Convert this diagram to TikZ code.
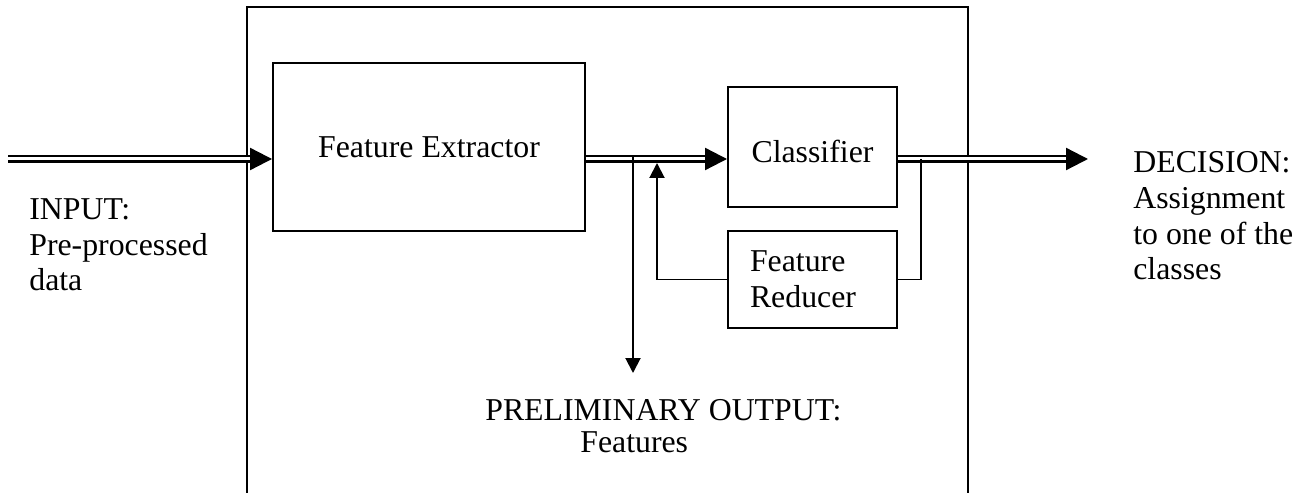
\documentclass[tikz,border=0pt]{standalone}
\usepackage{fontspec}
\setmainfont{Liberation Serif}
\usetikzlibrary{arrows.meta,calc}
\tikzset{
  block/.style={draw, line width=0.04cm, inner sep=0pt, minimum width=3.38cm},
  wire/.style={line width=0.04cm},
  bus/.style={double, line width=0.045cm, double distance=0.06cm},
  bigtip/.style={-{Triangle[length=0.44cm,width=0.44cm]}},
  smalltip/.style={-{Triangle[length=0.3cm,width=0.3cm]}},
  lbl/.style={inner sep=0pt, align=left}
}
\begin{document}
\begin{tikzpicture}[x=0.02cm, y=-0.02cm, font=\fontsize{18.1}{20.4}\selectfont]
\useasboundingbox (0,0) rectangle (1295,493);

% system frame, open at the bottom
\draw[wire] (247,493) -- (247,7) -- (968,7) -- (968,493);

% processing blocks
\node[block, minimum width=6.24cm, minimum height=3.36cm] (fe) at (429,147) {Feature Extractor};
\node[block, minimum height=2.4cm, text height=0.64cm] (cls) at (812.5,147) {Classifier};
\node[block, minimum height=1.94cm, text width=2.5cm, inner xsep=0.44cm, align=left] (red) at (812.5,279.5) {Feature\\Reducer};

% connection points
\coordinate (in) at (8,159);
\coordinate (out) at (1088,159);
\coordinate (j1) at (633,157);
\coordinate (pre) at (633,373);
\coordinate (fb) at (657,163);
\coordinate (j2) at (921,159);

% main signal path
\draw[bus, bigtip] (in) -- (in -| fe.west);
\draw[bus, bigtip] (fe.east |- in) -- (cls.west |- in);
\draw[bus, bigtip] (cls.east |- in) -- (out);

% tap-off and feedback loop
\draw[wire, smalltip] (j1) -- (pre);
\draw[wire, smalltip] (red.west) -| (fb);
\draw[wire] (j2) |- (red.east);

% labels
\node[lbl, anchor=north west] (inlbl) at (29,198) {INPUT:\\Pre-processed\\data};
\node[lbl, anchor=north west] (declbl) at (1133,151) {DECISION:\\Assignment\\to one of the\\classes};
\node[lbl, anchor=base west] (prelbl) at (485,420) {PRELIMINARY OUTPUT:};
\node[lbl, anchor=base west] (featlbl) at (580,452) {Features};
\end{tikzpicture}
\end{document}
